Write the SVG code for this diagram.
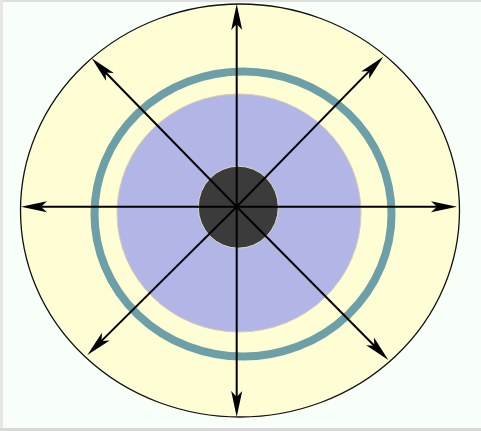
<svg xmlns="http://www.w3.org/2000/svg" width="481" height="431" viewBox="0 0 481 431">
<style>
.ax{stroke:#000;stroke-width:2;fill:none}
</style>
<defs>
<marker id="ah" markerUnits="userSpaceOnUse" viewBox="-12 -6 28 12" markerWidth="28" markerHeight="12" refX="0" refY="0" orient="auto" overflow="visible">
<path d="M15,0 L-11,-5.5 L-5,0 L-11,5.5 Z" fill="#000"/>
</marker>
</defs>
<rect x="0" y="0" width="481" height="431" fill="#f8fff8"/>
<rect x="0" y="0" width="481" height="2" fill="#dedede"/>
<rect x="0" y="0" width="3" height="431" fill="#e6e6e6"/>
<rect x="0" y="428" width="481" height="3" fill="#d8d8d8"/>
<g id="outer"><ellipse cx="240" cy="210.5" rx="219.5" ry="206.5" fill="#fefdd3" stroke="#111" stroke-width="1.3"/></g>
<g id="ring"><ellipse cx="243" cy="214" rx="148.5" ry="142.5" fill="none" stroke="#6c9fa7" stroke-width="8"/></g>
<g id="inner"><ellipse cx="239" cy="213" rx="122" ry="119" fill="#b2b6e6" stroke="#d4cdb4" stroke-width="1"/></g>
<g id="core"><ellipse cx="238.3" cy="207.2" rx="40" ry="41" fill="#3b3b3b" stroke="#e0d8c0" stroke-width="1"/></g>
<g id="connectors">
<line class="ax" x1="236.7" y1="206.7" x2="236.7" y2="19" marker-end="url(#ah)"/>
<line class="ax" x1="236.7" y1="206.7" x2="236.7" y2="402" marker-end="url(#ah)"/>
<line class="ax" x1="236.7" y1="206.7" x2="36" y2="206.7" marker-end="url(#ah)"/>
<line class="ax" x1="236.7" y1="206.7" x2="442" y2="206.7" marker-end="url(#ah)"/>
<line class="ax" x1="236.7" y1="206.7" x2="102.2" y2="69.0" marker-end="url(#ah)"/>
<line class="ax" x1="236.7" y1="206.7" x2="372.8" y2="67.4" marker-end="url(#ah)"/>
<line class="ax" x1="236.7" y1="206.7" x2="98.0" y2="344.4" marker-end="url(#ah)"/>
<line class="ax" x1="236.7" y1="206.7" x2="377.8" y2="349.3" marker-end="url(#ah)"/>
</g>
</svg>
